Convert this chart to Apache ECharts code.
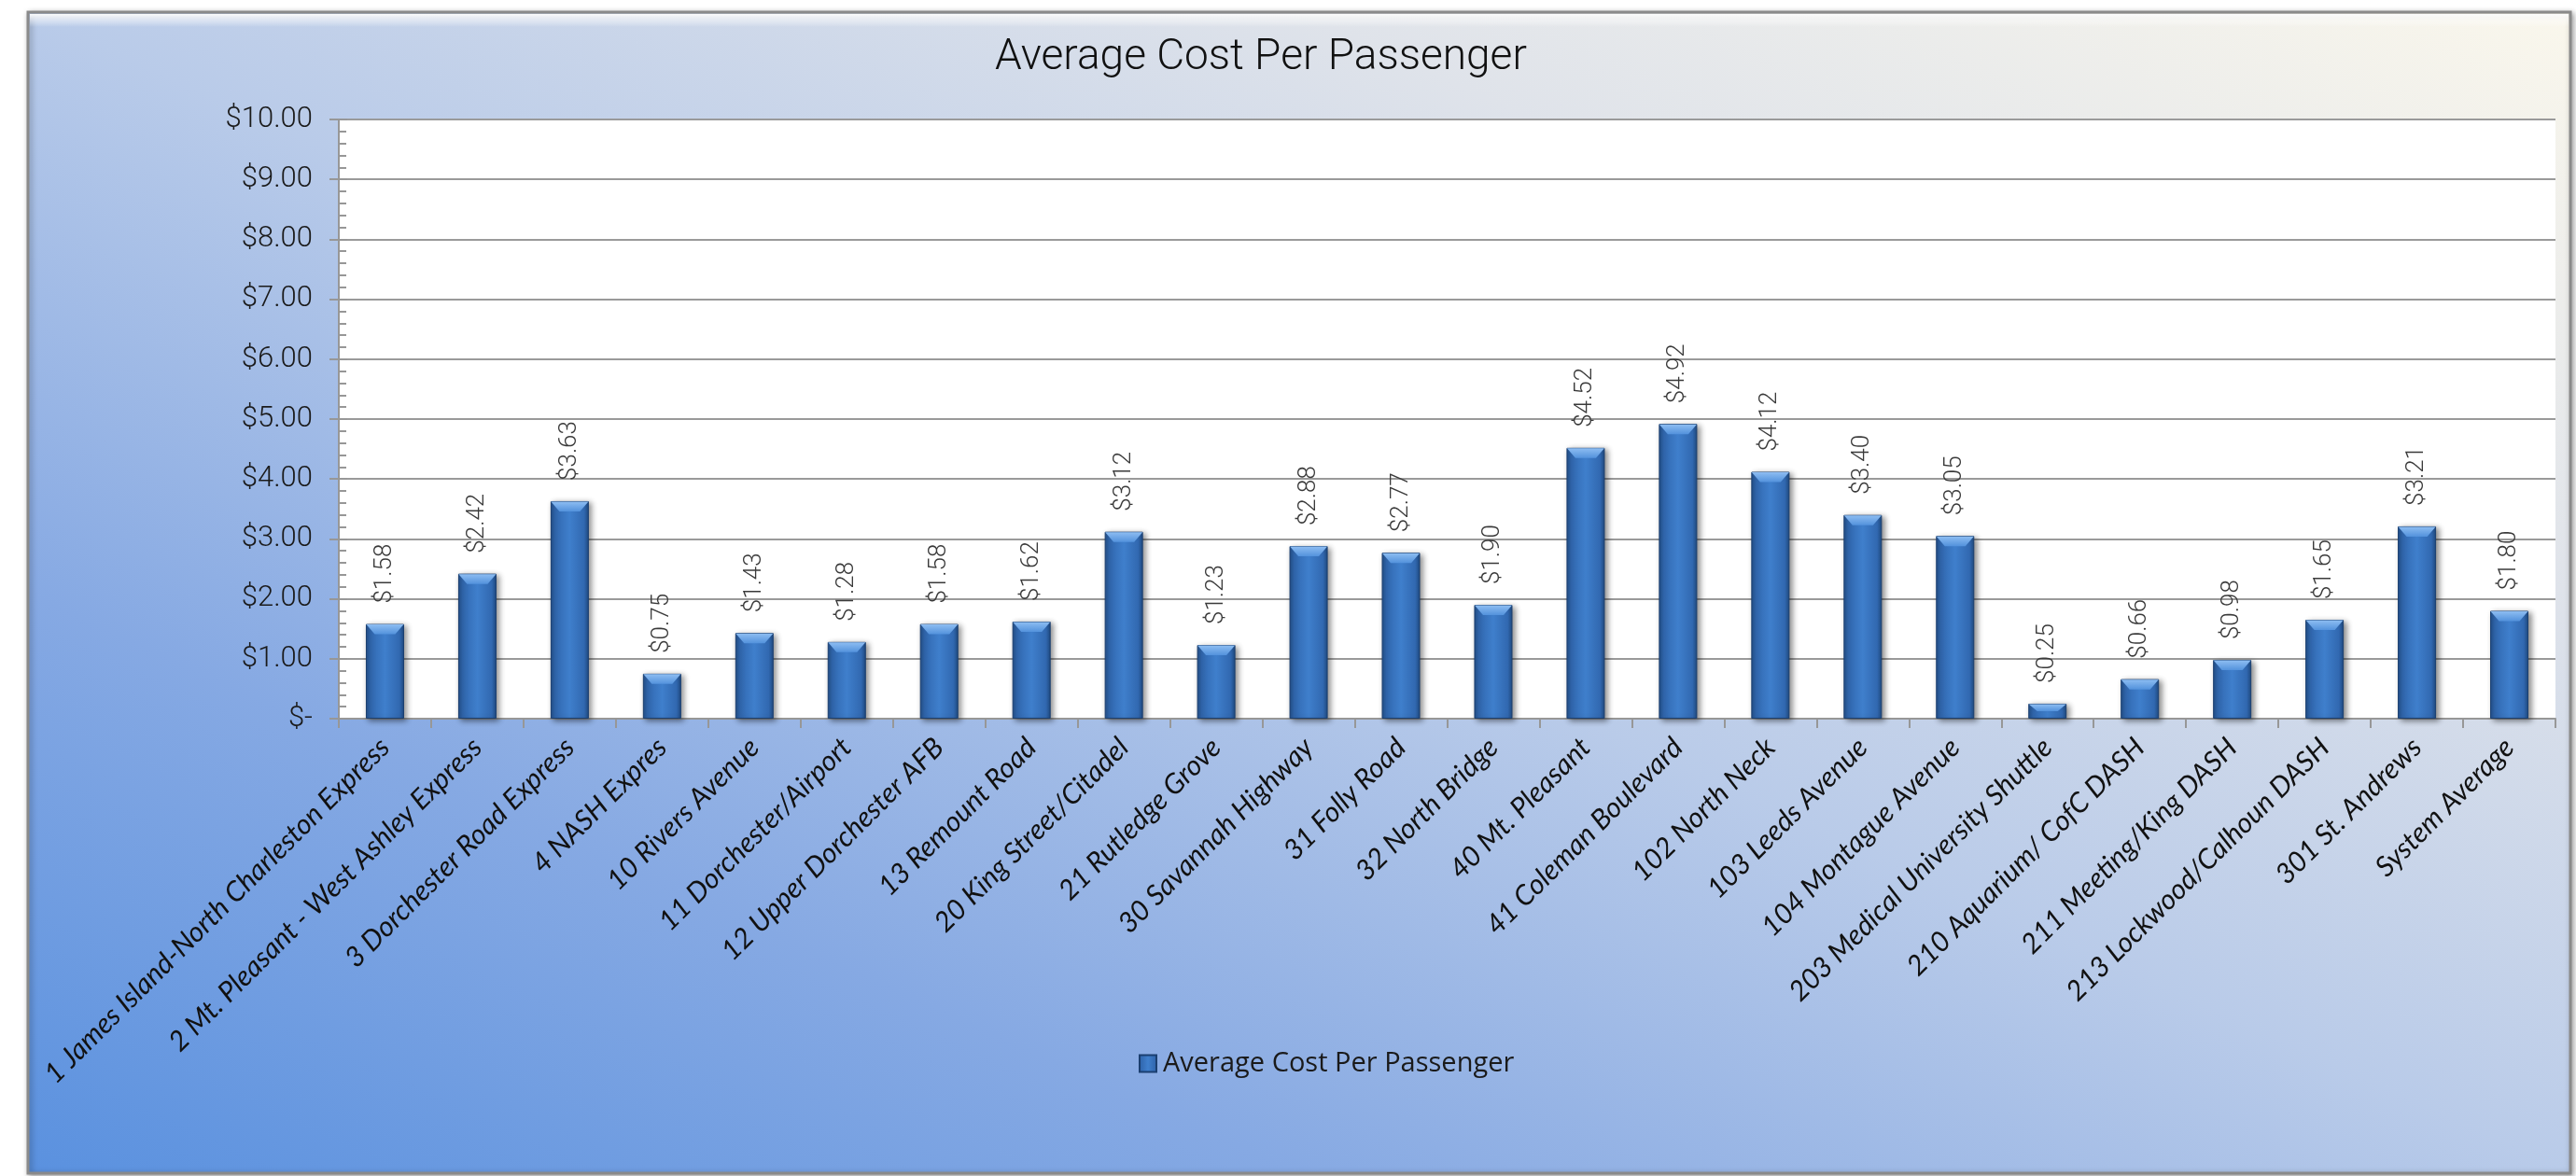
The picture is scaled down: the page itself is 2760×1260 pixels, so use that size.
<!DOCTYPE html>
<html>
<head>
<meta charset="utf-8">
<script src="https://cdn.jsdelivr.net/npm/echarts@6/dist/echarts.min.js"></script>
<style>
html,body{margin:0;padding:0;background:#ffffff;}
#chart{width:2760px;height:1260px;}
</style>
</head>
<body>
<div id="chart"></div>
<script>
const chartTitle = 'Average Cost Per Passenger';
const seriesName = 'Average Cost Per Passenger';
const categories = [
  '1 James Island-North Charleston Express',
  '2 Mt. Pleasant - West Ashley Express',
  '3 Dorchester Road Express',
  '4 NASH Expres',
  '10 Rivers Avenue',
  '11 Dorchester/Airport',
  '12 Upper Dorchester AFB',
  '13 Remount Road',
  '20 King Street/Citadel',
  '21 Rutledge Grove',
  '30 Savannah Highway',
  '31 Folly Road',
  '32 North Bridge',
  '40 Mt. Pleasant',
  '41 Coleman Boulevard',
  '102 North Neck',
  '103 Leeds Avenue',
  '104 Montague Avenue',
  '203 Medical University Shuttle',
  '210 Aquarium/ CofC DASH',
  '211 Meeting/King DASH',
  '213 Lockwood/Calhoun DASH',
  '301 St. Andrews',
  'System Average'
];
const costValues = [1.58, 2.42, 3.63, 0.75, 1.43, 1.28, 1.58, 1.62, 3.12, 1.23, 2.88, 2.77, 1.90, 4.52, 4.92, 4.12, 3.40, 3.05, 0.25, 0.66, 0.98, 1.65, 3.21, 1.80];
const yMin = 0, yMax = 10, yStep = 1;

const chart = echarts.init(document.getElementById('chart'), null, {renderer: 'canvas'});

const barColor = {
  type: 'linear', x: 0, y: 0, x2: 1, y2: 0,
  colorStops: [
    {offset: 0, color: '#234f88'},
    {offset: 0.12, color: '#3168b0'},
    {offset: 0.5, color: '#3f7fcc'},
    {offset: 0.88, color: '#3168b0'},
    {offset: 1, color: '#1f4a80'}
  ]
};

const money = v => v === 0 ? '$-' : '$' + v.toFixed(2);
const BAR_W = 41;

const option = {
  backgroundColor: '#ffffff',
  animation: false,
  graphic: [
    {
      type: 'rect', z: -10, silent: true,
      shape: {x: 30, y: 13, width: 2724, height: 1244},
      style: {
        fill: {
          type: 'linear', global: true, x: 923, y: 1664, x2: 1861, y2: -394,
          colorStops: [
            {offset: 0, color: '#5a91df'},
            {offset: 0.25, color: '#86a9e3'},
            {offset: 0.5, color: '#b9cbe9'},
            {offset: 0.75, color: '#dfe3ea'},
            {offset: 1, color: '#faf7ec'}
          ]
        },
        stroke: '#8a8a8a', lineWidth: 3,
        shadowBlur: 6, shadowColor: 'rgba(0,0,0,0.35)', shadowOffsetX: 2, shadowOffsetY: 2
      }
    },
    {
      type: 'rect', z: -9, silent: true,
      shape: {x: 32, y: 15, width: 2720, height: 14},
      style: {
        fill: {
          type: 'linear', x: 0, y: 0, x2: 0, y2: 1,
          colorStops: [
            {offset: 0, color: 'rgba(255,255,255,0.95)'},
            {offset: 1, color: 'rgba(255,255,255,0)'}
          ]
        }
      }
    }
  ],
  title: {
    text: chartTitle,
    left: 1346, top: 34,
    textAlign: 'center',
    textStyle: {
      fontFamily: 'Roboto',
      fontSize: 46, fontWeight: 300, color: '#111111'
    }
  },
  legend: {
    data: [seriesName],
    left: 1215, top: 1120,
    itemWidth: 18, itemHeight: 18, itemGap: 10,
    icon: 'rect',
    textStyle: {fontFamily: 'Open Sans', fontSize: 29, color: '#1a1a1a', padding: [0, 0, 0, 2]}
  },
  grid: {
    left: 363, right: 22, top: 128, bottom: 490,
    show: true, backgroundColor: '#ffffff', borderWidth: 0,
    containLabel: false
  },
  xAxis: {
    type: 'category',
    data: categories,
    axisLine: {show: true, lineStyle: {color: '#979797', width: 2}},
    axisTick: {show: true, length: 10, alignWithLabel: false, lineStyle: {color: '#979797', width: 2}},
    axisLabel: {
      interval: 0, rotate: 45, margin: 26,
      fontFamily: 'Lato', fontStyle: 'italic', fontSize: 30, color: '#111111'
    },
    splitLine: {show: false}
  },
  yAxis: [
    {
      type: 'value', min: yMin, max: yMax, interval: yStep,
      axisLine: {show: true, lineStyle: {color: '#979797', width: 2}},
      axisTick: {show: true, length: 10, lineStyle: {color: '#979797', width: 2}},
      axisLabel: {
        margin: 28, formatter: money,
        fontFamily: 'Roboto', fontWeight: 300, fontSize: 31, color: '#1a1a1a'
      },
      splitLine: {show: true, lineStyle: {color: '#9a9a9a', width: 2}}
    },
    {
      type: 'value', min: yMin, max: yMax, interval: yStep, position: 'left',
      axisLine: {show: false},
      axisTick: {show: true, inside: true, length: 9, lineStyle: {color: '#979797', width: 2}},
      minorTick: {show: true, splitNumber: 5, length: 8, lineStyle: {color: '#979797', width: 2}},
      axisLabel: {show: false},
      splitLine: {show: false}
    }
  ],
  series: [
    {
      name: seriesName,
      type: 'bar',
      yAxisIndex: 0,
      data: costValues,
      barWidth: BAR_W,
      itemStyle: {
        color: barColor,
        borderColor: '#1b3f70', borderWidth: 1,
        shadowColor: 'rgba(0,0,0,0.45)', shadowBlur: 6, shadowOffsetX: 3, shadowOffsetY: 2
      },
      label: {
        show: true, position: 'top', rotate: 90, distance: 22,
        align: 'left', verticalAlign: 'middle',
        formatter: p => money(p.value),
        fontFamily: 'Roboto', fontWeight: 300, fontSize: 26, color: '#3a3a3a'
      }
    },
    {
      name: 'bevel',
      type: 'custom',
      yAxisIndex: 0,
      silent: true,
      z: 3,
      data: costValues.map((v, i) => [i, v]),
      renderItem: function (params, api) {
        const top = api.coord([api.value(0), api.value(1)]);
        const base = api.coord([api.value(0), 0]);
        const h = Math.min(11, (base[1] - top[1]) / 2);
        const hw = BAR_W / 2 - 0.5;
        const inset = 9;
        return {
          type: 'polygon',
          shape: {points: [
            [top[0] - hw, top[1] + 0.5], [top[0] + hw, top[1] + 0.5],
            [top[0] + hw - inset, top[1] + h], [top[0] - hw + inset, top[1] + h]
          ]},
          style: {
            fill: {
              type: 'linear', x: 0, y: 0, x2: 0, y2: 1,
              colorStops: [
                {offset: 0, color: '#8dbdf2'},
                {offset: 1, color: '#5392dc'}
              ]
            }
          }
        };
      }
    }
  ]
};
chart.setOption(option);
</script>
</body>
</html>
